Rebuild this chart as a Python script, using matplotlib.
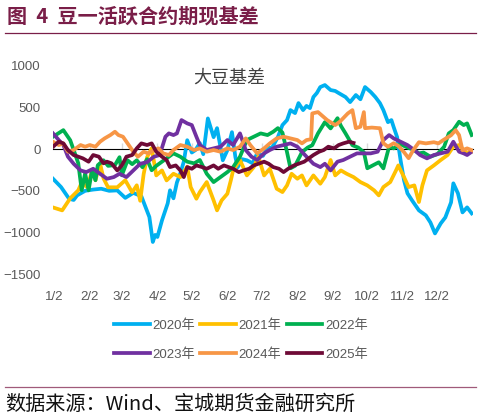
import numpy as np
import matplotlib
matplotlib.use('Agg')
import matplotlib.pyplot as plt

plt.rcParams['font.family'] = ['Liberation Sans', 'Noto Sans CJK SC', 'DejaVu Sans']

# ── Data: day offset from Jan 1 and basis value (yuan/ton) ────────────────────
DAYS_2020 = [0, 7, 14, 18, 21, 28, 35, 42, 49, 56, 63, 70, 77, 84, 87, 89, 91, 95,
             100, 102, 105, 108, 111, 114, 117, 121, 124, 128, 131, 135, 140, 143,
             146, 148, 152, 156, 159, 161, 165, 169, 174, 178, 183, 187, 191, 196,
             200, 204, 207, 211, 214, 218, 221, 224, 227, 230, 233, 237, 242, 246,
             249, 255, 259, 264, 268, 272, 277, 281, 285, 288, 292, 295, 297, 300,
             303, 306, 309, 313, 319, 325, 329, 333, 338, 342, 347, 349, 353, 357,
             361, 365]
VALS_2020 = [-355, -455, -595, -610, -555, -500, -485, -475, -500, -495, -585, -525,
             -565, -815, -1115, -1030, -1055, -855, -650, -494, -590, -400, -290,
             -150, 108, -40, -12, 72, -60, 370, 145, 253, 24, -133, -12, 205, -96,
             -217, -120, -133, -169, -48, -80, 12, 20, 145, 290, 350, 470, 434, 554,
             470, 520, 494, 627, 675, 747, 771, 711, 700, 675, 627, 566, 651, 600,
             747, 687, 627, 554, 470, 325, 350, 265, 145, -133, -373, -530, -615,
             -735, -795, -880, -1012, -892, -820, -639, -410, -530, -759, -699, -771]

DAYS_2021 = [0, 8, 15, 22, 25, 30, 34, 37, 41, 44, 48, 56, 63, 69, 73, 76, 79, 82,
             86, 89, 90, 95, 99, 105, 111, 117, 120, 125, 128, 134, 140, 143, 147,
             152, 155, 157, 163, 169, 175, 179, 184, 189, 195, 200, 204, 208, 213,
             217, 221, 227, 233, 237, 242, 246, 251, 256, 262, 268, 274, 280, 284,
             288, 294, 299, 301, 306, 310, 315, 319, 322, 326, 332, 338, 344, 349,
             354, 358, 361, 365]
VALS_2021 = [-700, -735, -590, -494, -400, -460, -253, -373, -170, -350, -458, -458,
             -373, -518, -434, -620, -300, -96, 12, -229, -315, -255, -375, -295,
             -335, -210, -455, -595, -515, -395, -615, -735, -615, -535, -375, -255,
             -130, -315, -215, -90, -315, -235, -475, -515, -435, -295, -355, -315,
             -435, -315, -415, -335, -130, -315, -255, -295, -335, -395, -435, -495,
             -555, -455, -395, -255, -195, -335, -455, -435, -635, -435, -255, -195,
             -130, -70, 30, 50, -10, -50, -30]

DAYS_2022 = [0, 9, 15, 19, 22, 25, 28, 31, 34, 37, 39, 44, 48, 54, 58, 60, 65, 69,
             73, 78, 82, 86, 90, 99, 105, 111, 117, 123, 128, 134, 140, 146, 152,
             157, 163, 169, 175, 181, 187, 192, 196, 200, 204, 207, 211, 217, 222,
             226, 231, 237, 242, 248, 251, 255, 261, 266, 271, 274, 278, 284, 288,
             293, 297, 303, 309, 315, 319, 323, 329, 335, 341, 345, 349, 354, 358,
             361, 365]
VALS_2022 = [150, 229, 108, -48, -169, -494, -290, -494, -253, -373, -193, -133,
             -200, -190, -96, -313, -133, -180, -133, -217, -120, -253, -200, -110,
             -50, -90, -150, -170, -130, -295, -395, -335, -275, -215, -90, 110, 150,
             190, 170, 210, 253, 200, -36, -229, -200, -36, 20, 48, 190, 325, 250,
             373, 280, 190, 48, 20, -36, -229, -200, -157, -230, 30, 10, 60, 20, -10,
             -50, -40, -90, -60, 30, 190, 230, 330, 290, 310, 170]

DAYS_2023 = [0, 5, 9, 13, 18, 24, 29, 35, 41, 47, 53, 58, 64, 70, 76, 82, 88, 93,
             98, 101, 105, 108, 112, 117, 121, 125, 128, 134, 140, 146, 152, 157,
             163, 168, 173, 178, 184, 189, 195, 201, 207, 213, 217, 221, 227, 233,
             237, 242, 248, 253, 259, 265, 271, 277, 283, 288, 293, 297, 303, 309,
             315, 320, 326, 332, 338, 344, 349, 354, 358, 361, 365]
VALS_2023 = [190, 110, 50, -90, -175, -255, -275, -235, -295, -355, -335, -295,
             -335, -255, -175, -155, -90, -70, 150, 190, 170, 190, 350, 310, 290,
             150, 50, -10, 10, 30, 110, 50, 190, -10, -90, -130, -50, -10, 30, 50,
             70, 30, -30, -90, -175, -215, -175, -255, -150, -130, -90, -50, -50,
             -50, -30, 110, 170, 130, 90, 50, -10, -70, -110, -70, -50, -30, 90,
             -30, -50, -70, -30]

DAYS_2024 = [0, 5, 9, 13, 18, 24, 28, 32, 37, 41, 45, 50, 54, 57, 61, 66, 70, 74,
             79, 83, 88, 92, 96, 101, 105, 111, 117, 123, 128, 134, 140, 146, 152,
             157, 163, 168, 172, 178, 184, 189, 195, 201, 207, 213, 217, 221, 225,
             226, 231, 239, 246, 250, 257, 261, 264, 268, 271, 272, 278, 284, 285,
             288, 292, 297, 301, 306, 310, 314, 319, 325, 332, 336, 340, 347, 351,
             354, 357, 361, 365]
VALS_2024 = [90, 50, 70, -30, -10, 50, 30, 50, 30, 90, 130, 170, 210, 170, 150, 50,
             -30, -90, -30, -50, -10, 10, -50, -70, -10, 50, 30, -10, 10, -30, -10,
             -30, 10, -10, 30, 130, 50, -50, 10, 70, 130, 150, 130, 110, 70, 110,
             120, 430, 446, 350, 290, 330, 430, 470, 253, 270, 446, 253, 260, 253,
             253, 72, 30, 72, 40, -36, -108, -12, 84, 70, 84, 70, 108, 168, 229,
             170, -12, 10, -12]

DAYS_2025 = [0, 5, 9, 13, 18, 22, 26, 31, 35, 40, 44, 47, 51, 56, 60, 64, 69, 73,
             77, 82, 86, 90, 95, 99, 102, 107, 111, 114, 117, 121, 125, 130, 134,
             140, 144, 149, 153, 157, 162, 166, 171, 175, 179, 184, 188, 192, 197,
             201, 205, 210, 214, 219, 223, 227, 232, 236, 240, 245, 249, 253, 258,
             262]
VALS_2025 = [30, 90, 70, -10, -70, -90, -110, -150, -70, -90, -170, -150, -170,
             -255, -195, -90, -70, 10, 70, 50, 70, -30, -90, -130, -215, -195, -255,
             -335, -215, -235, -195, -215, -235, -195, -235, -195, -215, -235, -275,
             -255, -235, -195, -175, -150, -175, -215, -235, -275, -235, -195, -175,
             -150, -110, -70, -30, -10, 30, 10, 50, 70, 90, 75]

SERIES = [
    ('2020年', DAYS_2020, VALS_2020, '#00B0F0'),
    ('2021年', DAYS_2021, VALS_2021, '#FFC000'),
    ('2022年', DAYS_2022, VALS_2022, '#00B050'),
    ('2023年', DAYS_2023, VALS_2023, '#7030A0'),
    ('2024年', DAYS_2024, VALS_2024, '#F79646'),
    ('2025年', DAYS_2025, VALS_2025, '#6E0A36'),
]

TICK_DAYS = [1, 32, 60, 91, 121, 152, 182, 213, 244, 274, 305, 335]
TICK_LABELS = ['1/2', '2/2', '3/2', '4/2', '5/2', '6/2',
               '7/2', '8/2', '9/2', '10/2', '11/2', '12/2']
Y_TICKS = [1000, 500, 0, -500, -1000, -1500]

COL_HEAD = '#7A1E48'
COL_GREY = '#595959'

fig = plt.figure(figsize=(4.82, 4.19), dpi=100)

# ── Header / footer ───────────────────────────────────────────────────────────
fig.text(0.014, 0.962, '图  4  豆一活跃合约期现基差', fontsize=14.5, fontweight='bold',
         color=COL_HEAD, va='center', ha='left', family=['Noto Sans CJK SC'])
fig.add_artist(plt.Line2D([0.010, 0.988], [0.921, 0.921], color=COL_HEAD, lw=0.9))
fig.add_artist(plt.Line2D([0.010, 0.988], [0.076, 0.076], color='#A05A7A', lw=0.9))
fig.text(0.010, 0.034, '数据来源：Wind、宝城期货金融研究所', fontsize=14.5,
         color='#111111', va='center', ha='left', family=['Noto Sans CJK SC'])

# ── Plot area ─────────────────────────────────────────────────────────────────
ax = fig.add_axes([0.110, 0.346, 0.871, 0.4965])
lines = []
for name, d, v, c in SERIES:
    (ln,) = ax.plot(d, v, color=c, lw=2.7, label=name, solid_joinstyle='round',
                    zorder=3)
    lines.append(ln)

ax.set_xlim(0, 366)
ax.set_ylim(-1500, 1000)
ax.set_yticks(Y_TICKS)
ax.set_xticks(TICK_DAYS)
ax.set_xticklabels(TICK_LABELS)
ax.tick_params(axis='both', length=0, labelsize=9.5, labelcolor=COL_GREY)
ax.tick_params(axis='x', pad=12)
ax.tick_params(axis='y', pad=9)
for s in ax.spines.values():
    s.set_visible(False)

# zero axis with tick marks (Excel-style category axis crossing at 0)
zero_ax = ax.secondary_xaxis(0.6)
zero_ax.set_xticks(TICK_DAYS)
zero_ax.set_xticklabels([])
zero_ax.tick_params(length=4, width=1, color='#D9D9D9')
zero_ax.spines['bottom'].set_color('#D9D9D9')
zero_ax.spines['bottom'].set_linewidth(1.2)

ax.text(0.42, 0.945, '大豆基差', transform=ax.transAxes, fontsize=13,
        color='#404040', ha='center', va='center', family=['Noto Sans CJK SC'])

# legend filled row by row (matplotlib fills columns first)
order = [0, 3, 1, 4, 2, 5]
fig.legend([lines[i] for i in order], [SERIES[i][0] for i in order],
           loc='center', bbox_to_anchor=(0.50, 0.188), ncol=3, frameon=False,
           fontsize=9.5, labelcolor=COL_GREY, handlelength=2.7, handletextpad=0.2,
           columnspacing=0.4, labelspacing=1.25, borderaxespad=0)

fig.savefig('out.png', dpi=100)
